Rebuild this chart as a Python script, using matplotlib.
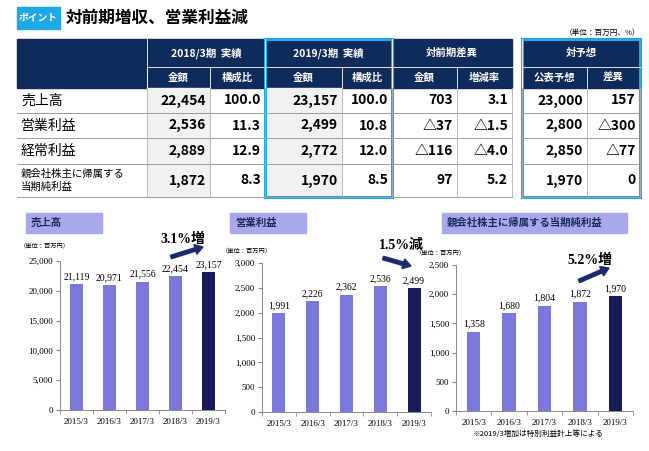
import matplotlib.pyplot as plt
from matplotlib.patches import Rectangle, FancyArrow

JP = ['Noto Sans CJK JP', 'DejaVu Sans']
SERIF = ['Liberation Serif', 'Noto Sans CJK JP']

# table data
row_labels = ['売上高', '営業利益', '経常利益', '親会社株主に帰属する\n当期純利益']
group_heads = ['2018/3期  実績', '2019/3期  実績', '対前期差異', '対予想']
sub_heads = ['金額', '構成比', '金額', '構成比', '金額', '増減率', '公表予想', '差異']
cells = [
    ['22,454', '100.0', '23,157', '100.0', '703', '3.1', '23,000', '157'],
    ['2,536', '11.3', '2,499', '10.8', '△37', '△1.5', '2,800', '△300'],
    ['2,889', '12.9', '2,772', '12.0', '△116', '△4.0', '2,850', '△77'],
    ['1,872', '8.3', '1,970', '8.5', '97', '5.2', '1,970', '0'],
]

# chart data
years = ['2015/3', '2016/3', '2017/3', '2018/3', '2019/3']
sales = [21119, 20971, 21556, 22454, 23157]
op_profit = [1991, 2226, 2362, 2536, 2499]
net_profit = [1358, 1680, 1804, 1872, 1970]

W, H = 649, 451
fig = plt.figure(figsize=(W / 100, H / 100), dpi=100)
bg = fig.add_axes([0, 0, 1, 1])
bg.set_xlim(0, W)
bg.set_ylim(H, 0)
bg.axis('off')

NAVY = '#0f2b5b'
CYAN = '#1ea9e6'

# title
bg.add_patch(Rectangle((17, 7), 43, 22, color=CYAN))
bg.text(38.5, 18, 'ポイント', color='white', fontsize=7, fontweight='bold',
        ha='center', va='center', family=JP)
bg.text(66, 18, '対前期増収、営業利益減', fontsize=12, fontweight='bold',
        ha='left', va='center', family=JP)
bg.text(640, 33, '（単位：百万円、%）', fontsize=5.5, ha='right', va='center', family=JP)

# table geometry
cx = [147, 210, 265, 342, 392, 457, 512, 522, 587, 640]
col_edges = [(cx[0], cx[1]), (cx[1], cx[2]), (cx[2], cx[3]), (cx[3], cx[4]),
             (cx[4], cx[5]), (cx[5], cx[6]), (cx[7], cx[8]), (cx[8], cx[9])]
group_edges = [(cx[0], cx[2]), (cx[2], cx[4]), (cx[4], cx[6]), (cx[7], cx[9])]
ry = [39, 67, 88, 113, 138, 164, 197]

# header
bg.add_patch(Rectangle((17, ry[0]), cx[6] - 17, ry[2] - ry[0], color=NAVY))
bg.add_patch(Rectangle((cx[7], ry[0]), cx[9] - cx[7], ry[2] - ry[0], color=NAVY))
for (a, b), t in zip(group_edges, group_heads):
    bg.text((a + b) / 2, (ry[0] + ry[1]) / 2, t, color='white', fontsize=7.5,
            fontweight='bold', ha='center', va='center', family=JP)
    bg.plot([a, a], [ry[0], ry[2]], color='white', lw=0.6)
bg.plot([cx[0], cx[6]], [ry[1], ry[1]], color='white', lw=0.6)
bg.plot([cx[7], cx[9]], [ry[1], ry[1]], color='white', lw=0.6)
for (a, b), t in zip(col_edges, sub_heads):
    bg.text((a + b) / 2, (ry[1] + ry[2]) / 2, t, color='white', fontsize=7.5,
            fontweight='bold', ha='center', va='center', family=JP)
    bg.plot([a, a], [ry[1], ry[2]], color='white', lw=0.6)

# body
for i in (0, 2):
    a, b = col_edges[i]
    bg.add_patch(Rectangle((a, ry[2]), b - a, ry[6] - ry[2], color='#f1f1f1'))
for r, (lab, vals) in enumerate(zip(row_labels, cells)):
    y0, y1 = ry[r + 2], ry[r + 3]
    ym = (y0 + y1) / 2
    fs = 7.5 if '\n' in lab else 10
    bg.text(21, ym, lab, fontsize=fs, ha='left', va='center', family=JP, linespacing=1.4)
    for (a, b), v in zip(col_edges, vals):
        bg.text(b - 4, ym, v, fontsize=10, fontweight='bold', ha='right', va='center', family=JP)
    bg.plot([17, cx[6]], [y1, y1], color='#9a9a9a', lw=0.7)
    bg.plot([cx[7], cx[9]], [y1, y1], color='#9a9a9a', lw=0.7)
for x in cx[:7] + cx[7:]:
    if x in (cx[0],) or True:
        bg.plot([x, x], [ry[2], ry[6]], color='#b0b0b0', lw=0.6)
bg.add_patch(Rectangle((cx[2], ry[0]), cx[4] - cx[2], ry[6] - ry[0], fill=False, ec=CYAN, lw=2.2))
bg.add_patch(Rectangle((cx[7], ry[0]), cx[9] - cx[7], ry[6] - ry[0], fill=False, ec=CYAN, lw=2.2))

# charts
panels = [
    dict(vals=sales, title='売上高', box=(26, 102), ax=(60, 225, 261, 410), top=25000, step=5000,
         unit_y=245, note='3.1%増', note_xy=(183, 239), arrow=((171, 257), (203, 247))),
    dict(vals=op_profit, title='営業利益', box=(230, 306), ax=(262, 431, 263, 412), top=3000, step=500,
         unit_y=250, note='1.5%減', note_xy=(401, 245), arrow=((383, 258), (411, 266))),
    dict(vals=net_profit, title='親会社株主に帰属する当期純利益', box=(442, 627), ax=(456, 633, 265, 411),
         top=2500, step=500, unit_y=252, note='5.2%増', note_xy=(590, 260), arrow=((579, 281), (609, 268))),
]
for p in panels:
    a, b = p['box']
    bg.add_patch(Rectangle((a, 213), b - a, 20, color='#a9a8ec'))
    bg.text(a + 5, 223, p['title'], fontsize=7.5, fontweight='bold', color='#1a2a5a',
            ha='left', va='center', family=JP)
    x0, x1, y0, y1 = p['ax']
    bg.text(x0 - 40, p['unit_y'], '（単位：百万円）', fontsize=4.5, ha='left', va='center', family=JP)
    nx, ny = p['note_xy']
    bg.text(nx, ny, p['note'], fontsize=10, fontweight='bold', ha='center', va='center', family=SERIF)
    (sx, sy), (ex, ey) = p['arrow']
    bg.add_patch(FancyArrow(sx, sy, ex - sx, ey - sy, width=3.5, head_width=10, head_length=8,
                            length_includes_head=True, color='#1c2b6b'))

    ax = fig.add_axes([x0 / W, 1 - y1 / H, (x1 - x0) / W, (y1 - y0) / H])
    colors = ['#7b78dd'] * 4 + ['#181a5a']
    bars = ax.bar(range(5), p['vals'], width=0.38, color=colors)
    for i, v in enumerate(p['vals']):
        ax.text(i, v + p['top'] * 0.02, f'{v:,}', ha='center', va='bottom', fontsize=7, family=SERIF)
    ax.set_ylim(0, p['top'])
    ax.set_xlim(-0.5, 4.5)
    ax.set_yticks(range(0, p['top'] + 1, p['step']))
    ax.set_yticklabels([f'{t:,}' for t in range(0, p['top'] + 1, p['step'])], family=SERIF, fontsize=6.5)
    ax.set_xticks(range(5))
    ax.set_xticklabels(years, family=SERIF, fontsize=6.5)
    ax.set_xticks([i + 0.5 for i in range(-1, 5)], minor=True)
    ax.tick_params(axis='x', which='major', length=0, pad=6)
    ax.tick_params(axis='x', which='minor', length=3, color='#888888')
    ax.tick_params(axis='y', length=3, color='#888888', pad=2)
    for s in ('top', 'right'):
        ax.spines[s].set_visible(False)
    for s in ('left', 'bottom'):
        ax.spines[s].set_color('#888888')
        ax.spines[s].set_linewidth(0.7)
    ax.set_facecolor('none')

bg.text(473, 434, '※2019/3増加は特別利益計上等による', fontsize=5.5, ha='left', va='center', family=JP)

fig.savefig('out.png', dpi=100)
